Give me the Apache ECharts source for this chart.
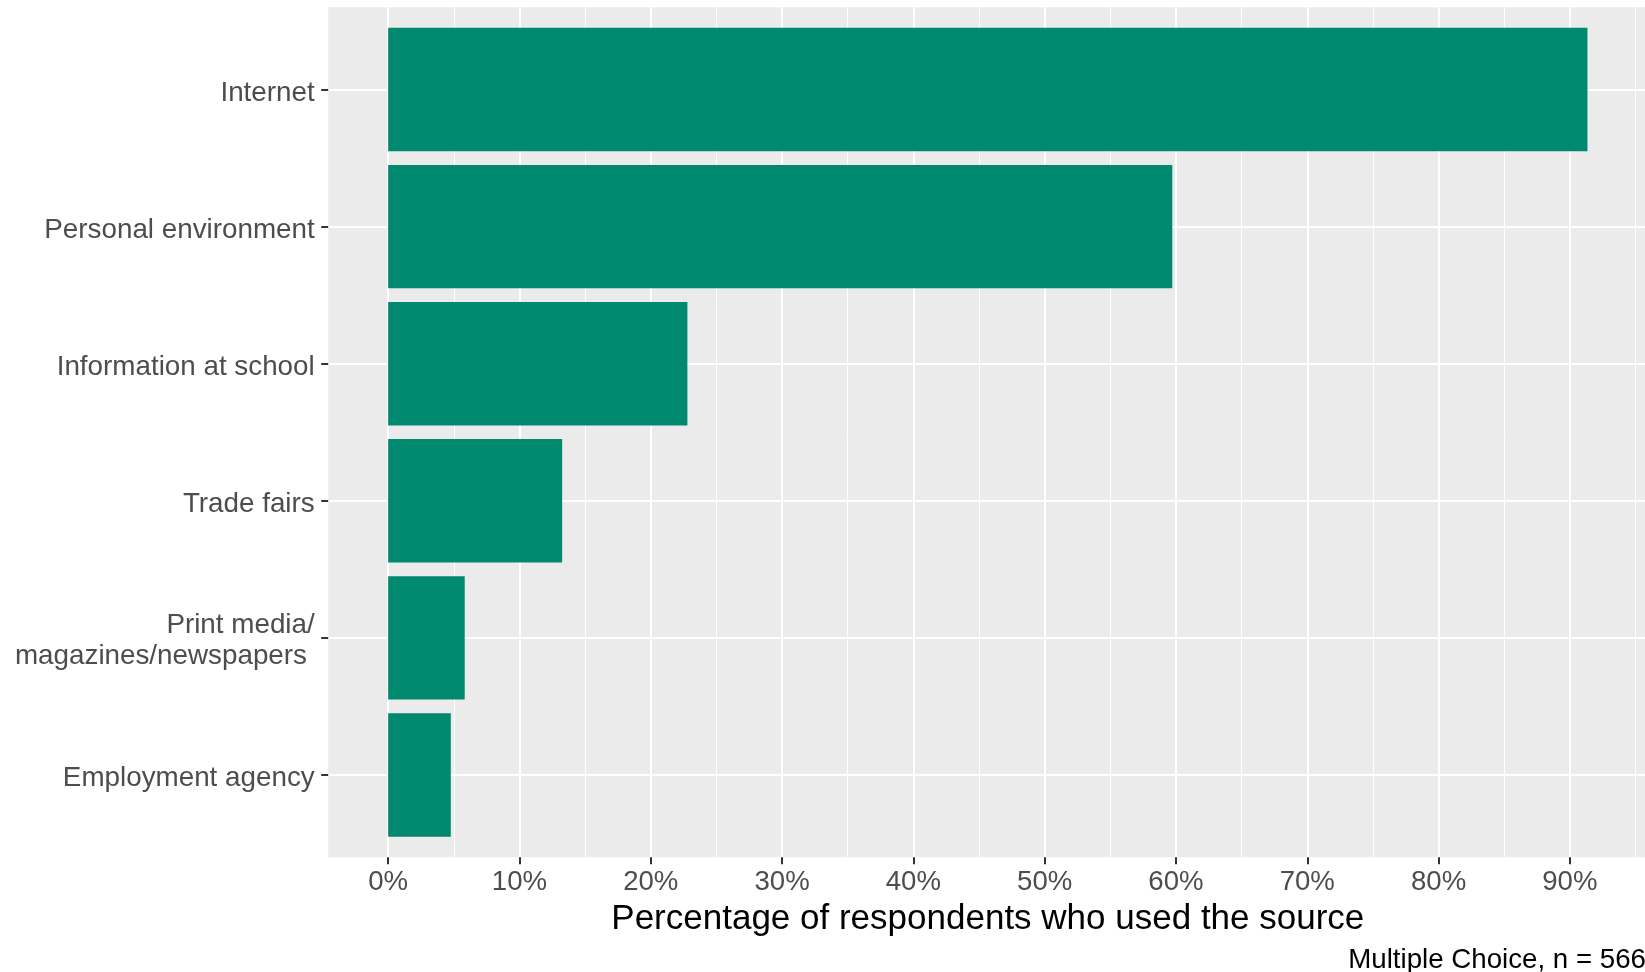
<!DOCTYPE html>
<html>
<head>
<meta charset="utf-8">
<script src="https://cdn.jsdelivr.net/npm/echarts@6/dist/echarts.min.js"></script>
<style>
  html, body { margin: 0; padding: 0; background: #ffffff; }
  #chart { width: 1645px; height: 972px; }
</style>
</head>
<body>
<div id="chart"></div>
<script>
// ---- data ----
const categories = [
  'Internet',
  'Personal environment',
  'Information at school',
  'Trade fairs',
  'Print media/\nmagazines/newspapers ',
  'Employment agency'
];
const shareUsed = [91.34, 59.72, 22.79, 13.25, 5.83, 4.77];
const xTickValues = [0, 10, 20, 30, 40, 50, 60, 70, 80, 90];
const axisTitle = 'Percentage of respondents who used the source';
const captionText = 'Multiple Choice, n = 566';

// ---- layout (ggplot-like expansion) ----
const maxVal = Math.max.apply(null, shareUsed);
const xMin = -0.05 * maxVal;
const xMax = maxVal * 1.05;
const pxPerUnit = 13.13;
const panelLeft = 328.2, panelTop = 7.3, panelBottom = 857.2;
const zeroX = panelLeft - xMin * pxPerUnit;
const panelWidth = (xMax - xMin) * pxPerUnit;
const nCat = categories.length;
const catStep = (panelBottom - panelTop) / (nCat - 1 + 1.2);
const barTop = panelTop + 0.1 * catStep;
const barBottom = panelBottom - 0.1 * catStep;
const labelShift = 3.3;

const FONT = '"Liberation Sans", Arial, Helvetica, sans-serif';

const chart = echarts.init(document.getElementById('chart'), null, { renderer: 'canvas' });

const gridBase = { show: false, containLabel: false, outerBoundsMode: 'none' };

chart.setOption({
  backgroundColor: '#ffffff',
  animation: false,
  textStyle: { fontFamily: FONT },
  grid: [
    { // panel background + grid lines
      left: panelLeft, top: panelTop, width: panelWidth, height: panelBottom - panelTop,
      show: true, backgroundColor: '#EBEBEB', borderWidth: 0,
      containLabel: false, outerBoundsMode: 'none'
    },
    Object.assign({ left: zeroX, top: barTop, width: xMax * pxPerUnit,
                    height: barBottom - barTop }, gridBase),           // bars
    Object.assign({ left: panelLeft, top: barTop, width: panelWidth,
                    height: barBottom - barTop }, gridBase),           // y ticks
    Object.assign({ left: panelLeft, top: barTop + labelShift, width: panelWidth,
                    height: barBottom - barTop }, gridBase)            // y labels
  ],
  xAxis: [
    {
      gridIndex: 0, type: 'value', min: xMin, max: xMax, splitNumber: 10,
      axisLine: { show: false }, axisTick: { show: false }, axisLabel: { show: false },
      splitLine: { show: true, showMinLine: false, showMaxLine: false,
                   lineStyle: { color: '#ffffff', width: 2 } },
      minorTick: { show: false, splitNumber: 2 },
      minorSplitLine: { show: true, lineStyle: { color: '#ffffff', width: 1 } }
    },
    {
      gridIndex: 1, type: 'value', min: 0, max: xMax, interval: 10,
      position: 'bottom', offset: panelBottom - barBottom,
      axisLine: { show: false },
      axisTick: { show: true, length: 7, lineStyle: { color: '#333333', width: 2 } },
      axisLabel: {
        show: true, margin: 11, color: '#4D4D4D', fontSize: 27.6, fontFamily: FONT,
        showMaxLabel: false,
        formatter: function (v) { return xTickValues.indexOf(v) >= 0 ? v + '%' : ''; }
      },
      splitLine: { show: false }
    },
    { gridIndex: 2, type: 'value', min: 0, max: 1, show: false },
    { gridIndex: 3, type: 'value', min: 0, max: 1, show: false }
  ],
  yAxis: [
    {
      gridIndex: 0, type: 'value', min: -0.6, max: nCat - 1 + 0.6, splitNumber: 6,
      axisLine: { show: false }, axisTick: { show: false }, axisLabel: { show: false },
      splitLine: { show: true, showMinLine: false, showMaxLine: false,
                   lineStyle: { color: '#ffffff', width: 2 } }
    },
    {
      gridIndex: 1, type: 'category', inverse: true, data: categories, show: false
    },
    {
      gridIndex: 2, type: 'category', inverse: true, data: categories,
      position: 'left',
      axisLine: { show: false },
      axisTick: { show: true, alignWithLabel: true, length: 7,
                  lineStyle: { color: '#333333', width: 2 } },
      axisLabel: { show: false },
      splitLine: { show: false }
    },
    {
      gridIndex: 3, type: 'category', inverse: true, data: categories,
      position: 'left',
      axisLine: { show: false },
      axisTick: { show: false },
      axisLabel: { show: true, margin: 13.5, color: '#4D4D4D', fontSize: 27.8,
                   fontFamily: FONT, lineHeight: 31, align: 'right' },
      splitLine: { show: false }
    }
  ],
  series: [
    {
      type: 'bar', xAxisIndex: 1, yAxisIndex: 1,
      data: shareUsed, barWidth: '90%',
      itemStyle: { color: '#00896E' },
      silent: true
    }
  ],
  graphic: [
    {
      type: 'text', x: panelLeft + panelWidth / 2, y: 919,
      style: { text: axisTitle, font: '35px ' + FONT, fill: '#000000',
               textAlign: 'center', textVerticalAlign: 'middle' }
    },
    {
      type: 'text', x: 1646, y: 960,
      style: { text: captionText, font: '27.7px ' + FONT, fill: '#000000',
               textAlign: 'right', textVerticalAlign: 'middle' }
    }
  ]
});
</script>
</body>
</html>
